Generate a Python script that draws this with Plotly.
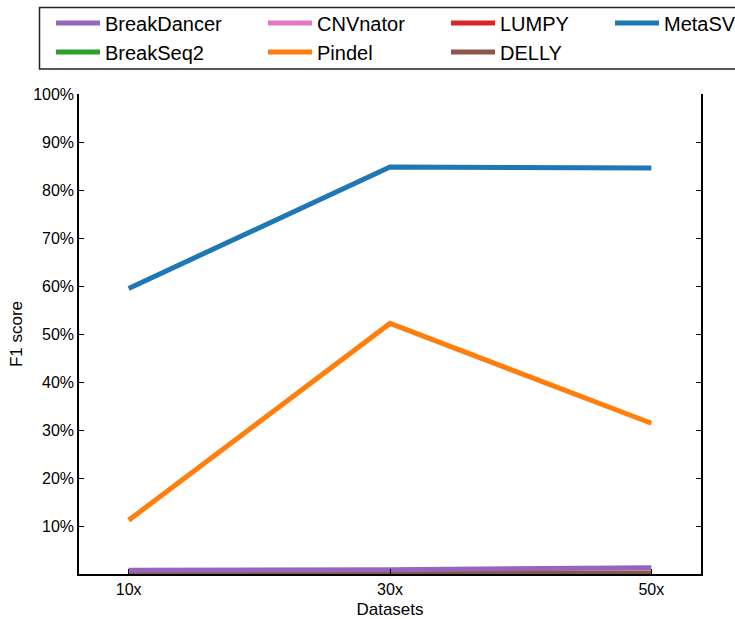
import plotly.graph_objects as go

datasets = ["10x", "30x", "50x"]
breakdancer = [0.008, 0.009, 0.013]
breakseq2 = [0.0, 0.0, 0.0]
cnvnator = [0.0, 0.0, 0.0]
pindel = [0.112, 0.522, 0.314]
lumpy = [0.0, 0.0, 0.0]
delly = [0.002, 0.002, 0.002]
metasv = [0.595, 0.848, 0.846]

y_ticks = [0.1, 0.2, 0.3, 0.4, 0.5, 0.6, 0.7, 0.8, 0.9, 1.0]
y_tick_labels = ["10%", "20%", "30%", "40%", "50%", "60%", "70%", "80%", "90%", "100%"]

# (name, values, color, legend, rank) in drawing order
series = [
    ("BreakSeq2", breakseq2, "#2ca02c", "legend", 2),
    ("CNVnator", cnvnator, "#e377c2", "legend2", 1),
    ("LUMPY", lumpy, "#d62728", "legend3", 1),
    ("DELLY", delly, "#8c564b", "legend3", 2),
    ("BreakDancer", breakdancer, "#9467bd", "legend", 1),
    ("Pindel", pindel, "#ff7f0e", "legend2", 2),
    ("MetaSV", metasv, "#1f77b4", "legend4", 1),
]

FONT = "Liberation Sans, Arial, Helvetica, sans-serif"

W, H = 735, 619
L, R, T, B = 79, 34, 94, 45
PW, PH = W - L - R, H - T - B

def px_x(px):
    return (px - L) / PW

def px_y(py):
    return (H - B - py) / PH

fig = go.Figure()
for name, vals, color, leg, rank in series:
    fig.add_trace(go.Scatter(
        x=[0, 1, 2], y=vals, mode="lines", name=name,
        line=dict(color=color, width=5),
        legend=leg, legendrank=rank, legendgroup=name,
    ))

def leg(px_origin, top):
    return dict(
        x=px_x(px_origin), xref="paper", xanchor="left",
        y=px_y(top), yref="paper", yanchor="top",
        orientation="v", bgcolor="rgba(0,0,0,0)", borderwidth=0,
        font=dict(family=FONT, size=20, color="#000"),
        tracegroupgap=0, itemwidth=44, traceorder="grouped",
    )

top = 3.5
fig.update_layout(
    width=W, height=H,
    margin=dict(l=L, r=R, t=T, b=B, autoexpand=False),
    paper_bgcolor="white", plot_bgcolor="white",
    font=dict(family=FONT, size=16, color="#000"),
    showlegend=True,
    legend=leg(51, top), legend2=leg(263, top), legend3=leg(446, top), legend4=leg(610, top),
    xaxis=dict(
        range=[-0.19, 2.19],
        tickmode="array", tickvals=[0, 1, 2], ticktext=datasets,
        showgrid=False, zeroline=False,
        showline=True, linecolor="#000", linewidth=1.5, mirror=False,
        ticks="inside", ticklen=5, tickwidth=1, tickcolor="#000",
        tickfont=dict(size=16),
        title=dict(text="Datasets", font=dict(size=17), standoff=6),
    ),
    yaxis=dict(
        range=[0, 1],
        tickmode="array", tickvals=y_ticks, ticktext=y_tick_labels,
        showgrid=False, zeroline=False,
        showline=True, linecolor="#000", linewidth=1.5, mirror="ticks",
        ticks="inside", ticklen=5, tickwidth=1, tickcolor="#000",
        tickfont=dict(size=16),
        title=dict(text="F1 score", font=dict(size=17), standoff=6),
    ),
    shapes=[dict(
        type="rect", xref="paper", yref="paper",
        x0=px_x(39.5), x1=px_x(737),
        y0=px_y(69), y1=px_y(7.5),
        line=dict(color="#222", width=1.5), fillcolor="rgba(0,0,0,0)",
    )],
)

fig.write_html("out.html", config={"displayModeBar": False},
               post_script="document.body.style.margin='0';")
